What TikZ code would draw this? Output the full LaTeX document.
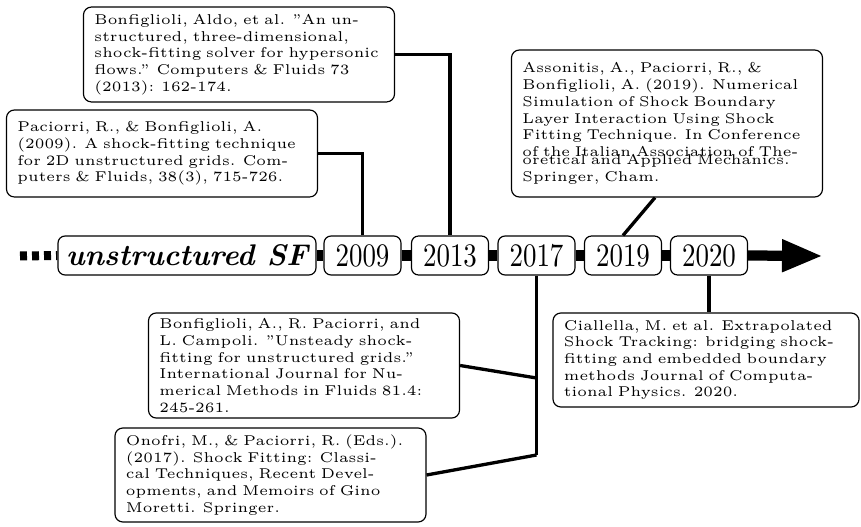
\documentclass[tikz,border=0pt]{standalone}
\usetikzlibrary{arrows.meta,calc}
\newcommand\yearfont[1]{\scalebox{0.92}[1.12]{\fontsize{10}{12}\selectfont #1}}
\begin{document}
\begin{tikzpicture}[x=0.3415pt,y=-0.3415pt,
  ref/.style={draw, rounded corners=2.7pt, line width=0.4pt, fill=white, align=left,
    text width=98.7pt, inner xsep=3.76pt, inner ysep=1pt, font=\fontsize{4.85}{5.7}\selectfont},
  yr/.style={draw, rounded corners=2.4pt, line width=0.4pt, fill=white,
    minimum width=26.3pt, minimum height=13.3pt, inner sep=0pt},
  conn/.style={line width=1.13pt},
  bar/.style={line width=3.5pt},
]
\useasboundingbox (0,0) rectangle (861,527);

% timeline nodes
\node[yr, minimum width=88.1pt, font=\fontsize{10.2}{11}\selectfont\bfseries\itshape] (sf) at (187,255.5) {unstructured SF};
\node[yr] (y2009) at (362.5,255.5) {\yearfont{2009}};
\node[yr] (y2013) at (450,255.5) {\yearfont{2013}};
\node[yr] (y2017) at (536.5,255.5) {\yearfont{2017}};
\node[yr] (y2019) at (623,255.5) {\yearfont{2019}};
\node[yr] (y2020) at (709,255.5) {\yearfont{2020}};

\coordinate (start) at (20,256);
\coordinate (tip) at (823,256);
\draw[line width=3.07pt, dash pattern=on 2.39pt off 1.71pt] (start) -- (sf.west);
\draw[bar] (sf.east) -- (y2009.west);
\draw[bar] (y2009.east) -- (y2013.west);
\draw[bar] (y2013.east) -- (y2017.west);
\draw[bar] (y2017.east) -- (y2019.west);
\draw[bar] (y2019.east) -- (y2020.west);
\draw[bar, -{Triangle[length=14pt,width=10.25pt]}] (y2020.east) -- (tip);

% reference boxes
\node[ref, minimum height=29.7pt] (pac09) at (162,153.5)
 {Paciorri, R., \& Bonfiglioli, A.\\(2009). A shock-fitting technique\\for 2D unstructured grids. Com-\\puters \& Fluids, 38(3), 715-726.};
\node[ref, minimum height=32.4pt] (bon13) at (239,54.5)
 {Bonfiglioli, Aldo, et al. \textquotedblright An un-\\structured, three-dimensional,\\shock-fitting solver for hypersonic\\flows.\textquotedblright{} Computers \& Fluids 73\\(2013): 162-174.};
\node[ref, minimum height=50.2pt] (ass19) at (667,123.5)
 {Assonitis, A., Paciorri, R., \&\\Bonfiglioli, A. (2019). Numerical\\Simulation of Shock Boundary\\Layer Interaction Using Shock\\Fitting Technique. In Conference\\of the Italian Association of The-\\[-2.9pt]oretical and Applied Mechanics.\\Springer, Cham.};
\node[ref, minimum height=35.9pt] (bon17) at (304,365.5)
 {Bonfiglioli, A., R. Paciorri, and\\L. Campoli. \textquotedblright Unsteady shock-\\fitting for unstructured grids.\textquotedblright\\International Journal for Nu-\\merical Methods in Fluids 81.4:\\245-261.};
\node[ref, minimum height=32.1pt] (ono17) at (270.5,475)
 {Onofri, M., \& Paciorri, R. (Eds.).\\(2017). Shock Fitting: Classi-\\cal Techniques, Recent Devel-\\opments, and Memoirs of Gino\\Moretti. Springer.};
\node[ref, minimum height=32.1pt, text width=97pt] (cia20) at (706,360)
 {Ciallella, M. et al. Extrapolated\\Shock Tracking: bridging shock-\\fitting and embedded boundary\\methods Journal of Computa-\\tional Physics. 2020.};

% connectors
\coordinate (j17a) at (536.5,378);
\coordinate (j17b) at (536.5,455);
\draw[conn] (pac09.east) -| (y2009.north);
\draw[conn] (bon13.east) -| (y2013.north);
\draw[conn] (y2019.north) -- ($(ass19.south)+(-12,0)$);
\draw[conn] (y2017.south) -- (j17b);
\draw[conn] (bon17.east) -- (j17a);
\draw[conn] (ono17.east) -- (j17b);
\draw[conn] (y2020.south) -- (y2020.south |- cia20.north);
\end{tikzpicture}
\end{document}
